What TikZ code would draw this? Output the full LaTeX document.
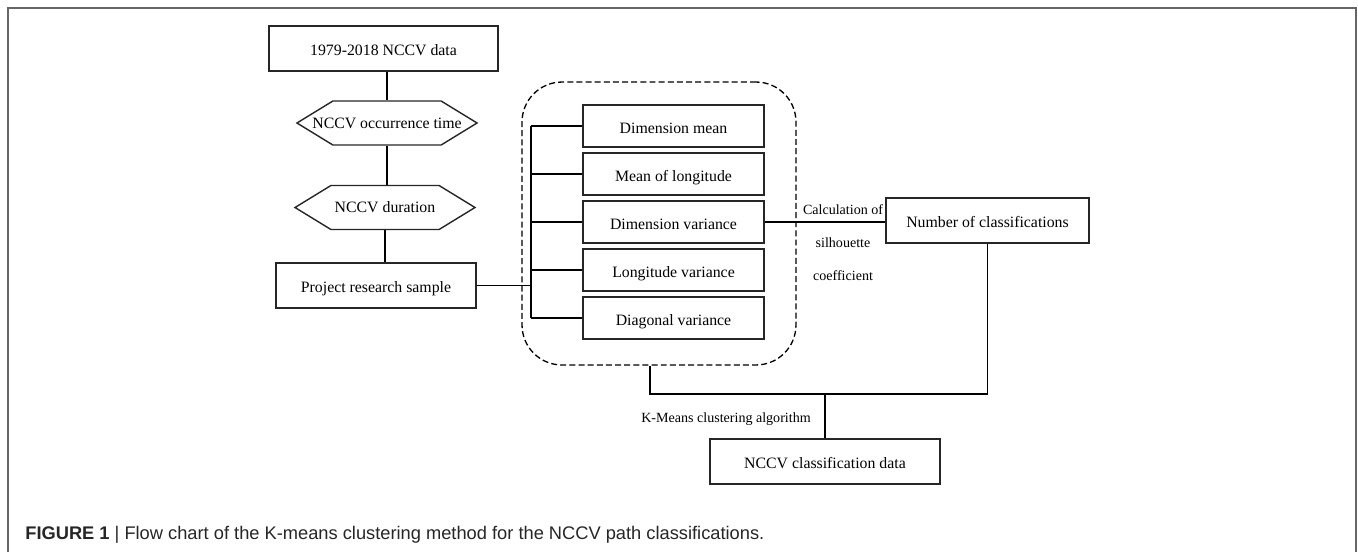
\documentclass[tikz,border=0pt]{standalone}
\usepackage{fontspec}
\setmainfont{Liberation Serif}
\newfontfamily\capfont{Liberation Sans}
\usetikzlibrary{positioning,shapes.symbols}

\begin{document}
\begin{tikzpicture}[x=0.02cm,y=-0.02cm,node distance=0.96cm,on grid,
   box/.style={draw=black!85,line width=0.8pt,minimum height=0.9cm,inner sep=2pt,
      text height=8.5pt,text depth=0pt,font=\fontsize{9}{11}\selectfont},
   hexa/.style={signal,signal to=west and east,signal pointer angle=63,draw=black!85,line width=0.8pt,
      minimum width=3.6cm,minimum height=0.88cm,inner xsep=-0.41cm,inner ysep=0pt,font=\fontsize{9}{11}\selectfont},
   feat/.style={box,minimum width=3.62cm,minimum height=0.84cm},
   group/.style={draw,dash pattern=on 3.4pt off 1.8pt,line width=0.75pt,rounded corners=0.8cm},
   link/.style={draw,line width=0.6pt},
   small/.style={font=\fontsize{8}{10}\selectfont}]
   \useasboundingbox (0,0) rectangle (1358,552);
   \draw[black!60, line width=1.1pt] (8,552) -- (8,8) -- (1356,8) -- (1356,552);

   % left column
   \node[box, minimum width=4.58cm] (data) at (383.5,48.5) {1979-2018 NCCV data};
   \node[hexa] (occ) at (387,123) {NCCV occurrence time};
   \node[hexa] (dur) at (385,207.5) {NCCV duration};
   \node[box, minimum width=4cm] (sample) at (376,285.5) {Project research sample};

   % grouped features
   \node[group, minimum width=5.48cm, minimum height=5.66cm] (grp) at (659,223.5) {};
   \node[feat] (f1) at (673.5,126) {Dimension mean};
   \node[feat] (f2) [below =of f1] {Mean of longitude};
   \node[feat] (f3) [below =of f2] {Dimension variance};
   \node[feat] (f4) [below =of f3] {Longitude variance};
   \node[feat] (f5) [below =of f4] {Diagonal variance};
   \coordinate (bus) at (531,0);

   % right part
   \node[box, minimum width=4.06cm] (num) at (987.5,220.5) {Number of classifications};
   \node[box, minimum width=4.6cm] (out) at (825,461.5) {NCCV classification data};
   \node[align=center, font=\fontsize{8}{18.7}\selectfont] (calc) at (843,242.5) {Calculation of\\silhouette\\coefficient};
   \node[small] (km) at (726,419) {K-Means clustering algorithm};
   \coordinate (jn) at (650,394);

   \path[link]
      (data.south -| occ.north) edge (occ.north)
      (occ.south) edge (occ.south |- dur.north)
      (dur.south) edge (dur.south |- sample.north)
      (sample.east) edge (sample.east -| bus)
      (f1.west -| bus) edge (f5.west -| bus)
      (f3.east) edge (f3.east -| num.west);
   \foreach \f in {f1,f2,f3,f4,f5}
      \draw[link] (\f.west -| bus) -- (\f.west);
   \draw[link] (grp.south -| jn) -- (jn) -| (num.south);
   \draw[link] (out.north) -- (out.north |- jn);

   \node[anchor=base west, inner sep=0pt, text=black!85, font=\capfont\fontsize{10.4}{12}\selectfont] (cap) at (25,539)
      {{\bfseries FIGURE 1} | Flow chart of the K-means clustering method for the NCCV path classifications.};
\end{tikzpicture}
\end{document}
